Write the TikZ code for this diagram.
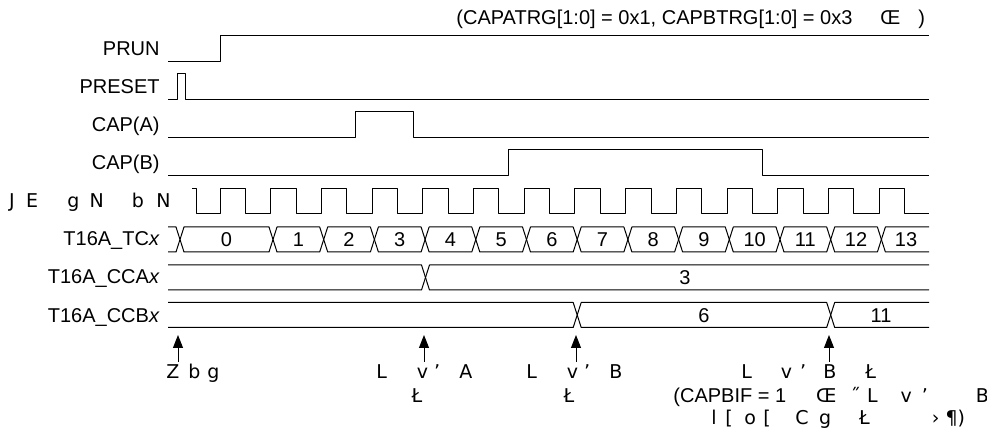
\documentclass[tikz,border=0pt]{standalone}
\usepackage{fontspec}
\setmainfont{Liberation Sans}
\newfontfamily\garbled{DejaVu Sans}
\usetikzlibrary{arrows.meta, positioning}

% one bus value between two crossings: left, right, top, bottom
\newcommand{\busval}[4]{%
  \draw[wave] (#1,{(#3+#4)/2}) -- ({#1+4},#3) -- ({#2-4},#3) -- (#2,{(#3+#4)/2})
    -- ({#2-4},#4) -- ({#1+4},#4) -- cycle;
}
% open bus ends: crossing, top, bottom
\newcommand{\busleft}[3]{%
  \draw[wave] (168,#2) -- ({#1-4},#2) -- (#1,{(#2+#3)/2}) -- ({#1-4},#3) -- (168,#3);
}
\newcommand{\busright}[3]{%
  \draw[wave] (929,#2) -- ({#1+4},#2) -- (#1,{(#2+#3)/2}) -- ({#1+4},#3) -- (929,#3);
}

\begin{document}
\begin{tikzpicture}[
    x=0.5pt, y=-0.5pt,
    wave/.style={line width=0.5pt, line join=round},
    sig/.style={anchor=base east, inner sep=0pt, font=\fontsize{10}{12}\selectfont},
    val/.style={anchor=base, inner sep=0pt, font=\fontsize{10}{12}\selectfont},
    note/.style={anchor=base west, inner sep=0pt, font=\garbled\fontsize{9.5}{11}\selectfont},
    event/.style={-{Triangle[length=6.5pt,width=5pt]}, line width=0.5pt}
    ]
    \useasboundingbox (0,0) rectangle (987,433);

    % Condition
    \node[sig, anchor=base west] (cond) at (456,25) {(CAPATRG[1:0] = 0x1, CAPBTRG[1:0] = 0x3\hspace{14pt}Œ\hspace{9pt})};

    % Signal names
    \node[sig] (prun) at (160,56) {PRUN};
    \node[sig] (preset) at (160,94) {PRESET};
    \node[sig] (capa) at (160,132) {CAP(A)};
    \node[sig] (capb) at (160,170) {CAP(B)};
    \node[note, anchor=base east] (clk) at (171,208) {J\hspace{5.7pt}E\hspace{14.5pt}g\hspace{5.2pt}N\hspace{14pt}b\hspace{6.2pt}N};
    \node[sig] (tc) at (160,246) {T16A\_TC\textit{x}};
    \node[sig] (cca) at (160,284) {T16A\_CCA\textit{x}};
    \node[sig] (ccb) at (160,322) {T16A\_CCB\textit{x}};

    % Waveforms
    \draw[wave] (168,62) -- (220,62) -- (220,36) -- (929,36);
    \draw[wave] (168,100) -- (177.5,100) -- (177.5,74) -- (185,74) -- (185,100) -- (929,100);
    \draw[wave] (168,138) -- (355,138) -- (355,112) -- (413,112) -- (413,138) -- (929,138);
    \draw[wave] (168,176) -- (508,176) -- (508,150) -- (762,150) -- (762,176) -- (929,176);
    \draw[wave] (192,189) -- (196,189) -- (196,214)
        \foreach \k in {0,...,13} { -- ({220+50.7*\k},214) -- ({220+50.7*\k},189)
        -- ({245.4+50.7*\k},189) -- ({245.4+50.7*\k},214) } -- (929,214);

    % T16A_TCx
    \busleft{180}{227}{252}
    \busval{180}{273}{227}{252}
    \node[val] (tc0) at (226.5,246.5) {0};
    \foreach \v [evaluate=\v as \a using 273+50.7*(\v-1),
                 evaluate=\v as \b using 273+50.7*\v] in {1,...,12} {
        \busval{\a}{\b}{227}{252}
        \node[val] (tc\v) at ({(\a+\b)/2},246.5) {\v};
    }
    \busright{881.4}{227}{252}
    \node[val] (tc13) at (906,246.5) {13};

    % T16A_CCAx
    \busleft{425.5}{265}{290}
    \busright{425.5}{265}{290}
    \node[val] (cca3) at (685,284.5) {3};

    % T16A_CCBx
    \busleft{577.2}{302.5}{327.5}
    \busval{577.2}{830.7}{302.5}{327.5}
    \busright{830.7}{302.5}{327.5}
    \node[val] (ccb6) at (704,322) {6};
    \node[val] (ccb11) at (881,322) {11};

    % Events
    \coordinate (e0) at (178,335);
    \coordinate (e1) at (424,335);
    \coordinate (e2) at (576,335);
    \coordinate (e3) at (829,335);
    \coordinate (b0) at (178,362);
    \coordinate (b1) at (424,362);
    \coordinate (b2) at (576,362);
    \coordinate (b3) at (829,362);
    \foreach \i in {0,...,3}
        \draw[event] (b\i) -- (e\i);

    % Notes
    \node[note] (n0) at (166,379) {Z\hspace{4.5pt}b\hspace{3.5pt}g};
    \node[note] (n1) at (376,379) {L\hspace{15pt}v\hspace{3pt}’\hspace{9.5pt}A};
    \node[note, anchor=base] (n1b) at (417,402) {Ł};
    \node[note] (n2) at (526,379) {L\hspace{15pt}v\hspace{3pt}’\hspace{9.5pt}B};
    \node[note, anchor=base] (n2b) at (569,402) {Ł};
    \node[note] (n3) at (741,379) {L\hspace{14.5pt}v\hspace{4pt}’\hspace{8.5pt}B\hspace{14.5pt}Ł};
    \node[note] (n3b) at (673,402) {{\rmfamily\fontsize{10}{12}\selectfont (CAPBIF = 1}\hspace{15pt}Œ\hspace{7pt}˝\hspace{3.5pt}L\hspace{11.5pt}v\hspace{5pt}’\hspace{24pt}B};
    \node[note] (n3c) at (711,424) {l\hspace{4.3pt}[\hspace{5.8pt}o\hspace{3.7pt}[\hspace{12.3pt}C\hspace{5.3pt}g\hspace{14pt}Ł\hspace{31pt}›\hspace{3pt}¶)};
\end{tikzpicture}
\end{document}
